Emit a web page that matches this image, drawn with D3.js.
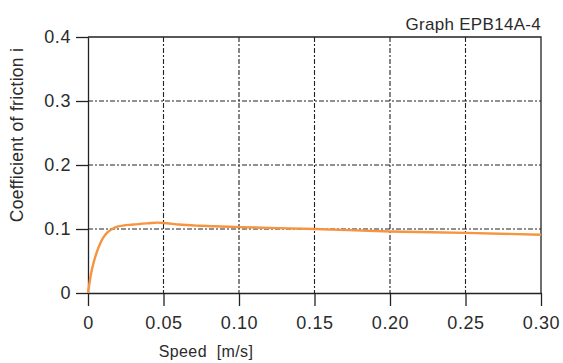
<!DOCTYPE html>
<html>
<head>
<meta charset="utf-8">
<script src="https://cdn.jsdelivr.net/npm/d3@7"></script>
<style>
    body { margin: 0; background: #fff; }
    svg text { font-family: "Liberation Sans", Arial, sans-serif; fill: #2b2b2b; }
</style>
</head>
<body>
<div id="chart"></div>
<script>
"use strict";

// chart data
const speed = [0, 0.001, 0.002, 0.004, 0.006, 0.008, 0.010, 0.013, 0.016, 0.020, 0.030, 0.040, 0.046, 0.052, 0.060, 0.075, 0.100, 0.150, 0.200, 0.250, 0.300];
const friction = [0, 0.016, 0.030, 0.050, 0.065, 0.077, 0.086, 0.095, 0.100, 0.104, 0.107, 0.109, 0.110, 0.109, 0.107, 0.105, 0.103, 0.100, 0.096, 0.094, 0.091];

const xTicks = [0, 0.05, 0.10, 0.15, 0.20, 0.25, 0.30];
const xTickLabels = ["0", "0.05", "0.10", "0.15", "0.20", "0.25", "0.30"];
const yTicks = [0, 0.1, 0.2, 0.3, 0.4];
const yTickLabels = ["0", "0.1", "0.2", "0.3", "0.4"];

const title = "Graph EPB14A-4";
const xTitle = "Speed  [m/s]";
const yTitle = "Coefficient of friction i";

let width = 563, height = 363;
let margin = { top: 37, right: 22, bottom: 70, left: 88 };
let w = width - margin.left - margin.right;
let h = height - margin.top - margin.bottom;

let svg = d3.select("#chart").append("svg")
    .attr("width", width)
    .attr("height", height);

let g = svg.append("g")
    .attr("transform", `translate(${margin.left},${margin.top})`);

let x = d3.scaleLinear().domain([0, 0.30]).range([0, w]);
let y = d3.scaleLinear().domain([0, 0.4]).range([h, 0]);

// grid lines (dash-dot)
g.append("g").selectAll("line.vgrid")
    .data(xTicks.slice(1, -1))
    .enter().append("line")
    .attr("x1", d => x(d)).attr("x2", d => x(d))
    .attr("y1", 0).attr("y2", h)
    .style("stroke", "#222")
    .style("stroke-width", 1.1)
    .style("stroke-dasharray", "5,2,2,2");

g.append("g").selectAll("line.hgrid")
    .data(yTicks.slice(1, -1))
    .enter().append("line")
    .attr("x1", 0).attr("x2", w)
    .attr("y1", d => y(d)).attr("y2", d => y(d))
    .style("stroke", "#222")
    .style("stroke-width", 1.1)
    .style("stroke-dasharray", "5,2,2,2");

// frame: top and right solid
g.append("path")
    .attr("d", `M0,0H${w}V${h}`)
    .style("fill", "none")
    .style("stroke", "#222")
    .style("stroke-width", 1.3);

// axes
let xAxis = d3.axisBottom(x)
    .tickValues(xTicks)
    .tickFormat((d, i) => xTickLabels[i])
    .tickSizeInner(13)
    .tickSizeOuter(0)
    .tickPadding(10);

let yAxis = d3.axisLeft(y)
    .tickValues(yTicks)
    .tickFormat((d, i) => yTickLabels[i])
    .tickSizeInner(12)
    .tickSizeOuter(0)
    .tickPadding(5);

let gx = g.append("g")
    .attr("transform", `translate(0,${h})`)
    .call(xAxis);

let gy = g.append("g").call(yAxis);

[gx, gy].forEach(a => {
    a.select(".domain").style("stroke", "#222").style("stroke-width", 1.3);
    a.selectAll(".tick line").style("stroke", "#222").style("stroke-width", 1.3);
    a.selectAll(".tick text")
        .style("font-size", "18px")
        .style("letter-spacing", "0.6px")
        .style("fill", "#2b2b2b")
        .style("font-family", "Liberation Sans, Arial, sans-serif");
});

// curve
let line = d3.line()
    .x((d, i) => x(speed[i]))
    .y((d, i) => y(friction[i]))
    .curve(d3.curveMonotoneX);

g.append("path")
    .datum(friction)
    .attr("d", line)
    .style("fill", "none")
    .style("stroke", "#f7943f")
    .style("stroke-width", 2.4);

// titles
svg.append("text")
    .attr("x", margin.left + w)
    .attr("y", 30)
    .attr("text-anchor", "end")
    .style("font-size", "17px")
    .style("letter-spacing", "0.3px")
    .text(title);

svg.append("text")
    .attr("x", 206)
    .attr("y", 357)
    .attr("text-anchor", "middle")
    .style("font-size", "16px")
    .style("letter-spacing", "0.4px")
    .attr("xml:space", "preserve")
    .text(xTitle);

svg.append("text")
    .attr("transform", "translate(23,135) rotate(-90)")
    .attr("text-anchor", "middle")
    .style("font-size", "17.5px")
    .style("letter-spacing", "0.3px")
    .text(yTitle);
</script>
</body>
</html>
